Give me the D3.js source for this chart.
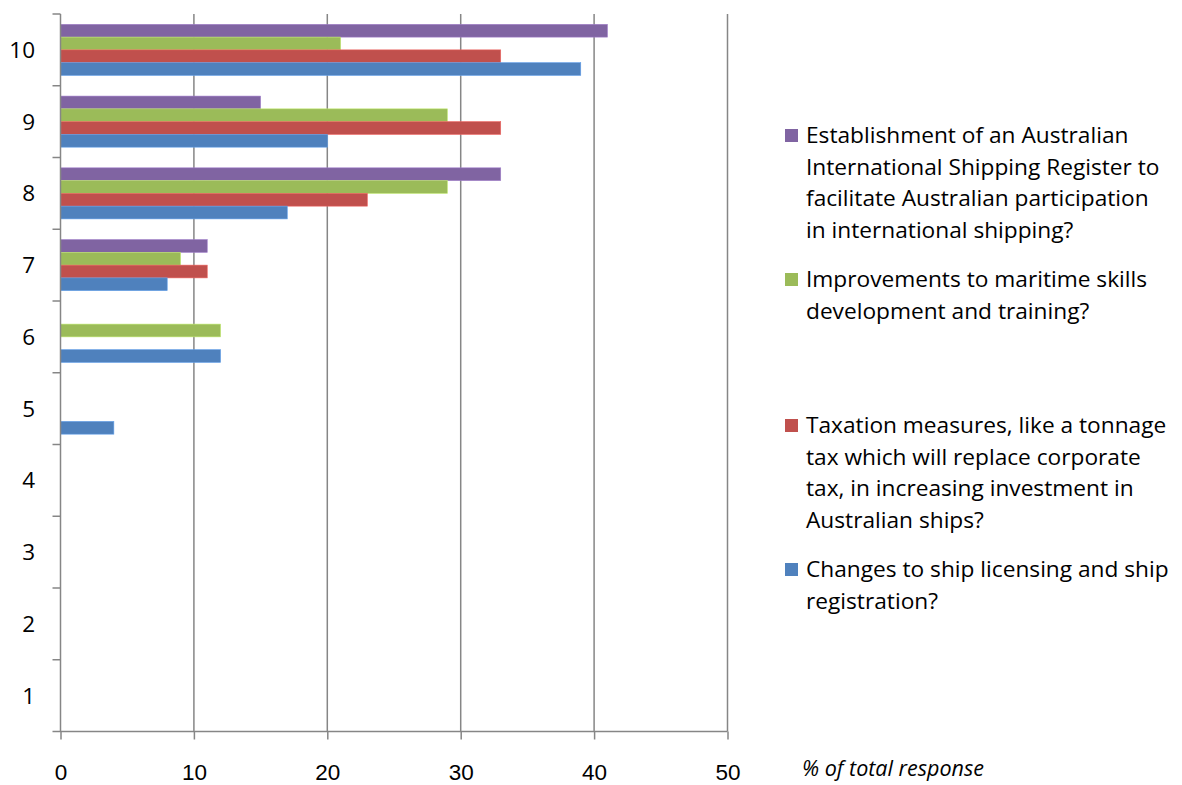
<!DOCTYPE html>
<html>
<head>
<meta charset="utf-8">
<script src="https://cdn.jsdelivr.net/npm/d3@7"></script>
<style>
  html, body { margin: 0; padding: 0; background: #fff; }
  svg { display: block; font-family: "Open Sans", Lato, sans-serif; }
  .axis path, .axis line { stroke: #868686; stroke-width: 1.5; }
  .axis text { fill: #000; font-size: 22.5px; }
  .grid line { stroke: #868686; stroke-width: 1.5; }
  .legend text { font-size: 22.7px; fill: #000; }
</style>
</head>
<body>
<svg id="chart" width="1182" height="785"></svg>
<script>
// categories, bottom to top on the chart
const categories = ['1', '2', '3', '4', '5', '6', '7', '8', '9', '10'];

// series values (% of total response), one per category
const registerValues = [0, 0, 0, 0, 0, 0, 11, 33, 15, 41];
const skillsValues   = [0, 0, 0, 0, 0, 12, 9, 29, 29, 21];
const taxValues      = [0, 0, 0, 0, 0, 0, 11, 23, 33, 33];
const licenceValues  = [0, 0, 0, 0, 4, 12, 8, 17, 20, 39];

const seriesNames = ['register', 'skills', 'tax', 'licence'];
const seriesColors = ['#8064A2', '#9BBB59', '#C0504D', '#4F81BD'];
const seriesLabels = [
    ['Establishment of an Australian', 'International Shipping Register to', 'facilitate Australian participation', 'in international shipping?'],
    ['Improvements to maritime skills', 'development and training?'],
    ['Taxation measures, like a tonnage', 'tax which will replace corporate', 'tax, in increasing investment in', 'Australian ships?'],
    ['Changes to ship licensing and ship', 'registration?']
];

const xTicks = [0, 10, 20, 30, 40, 50];
const xTitle = '% of total response';

const seriesValues = [registerValues, skillsValues, taxValues, licenceValues];

const svg = d3.select('#chart');
const plot = {left: 60.5, right: 727.5, top: 14, bottom: 731.5};

const xScale = d3.scaleLinear().domain([0, 50]).range([plot.left, plot.right]);
const yScale = d3.scaleBand()
    .domain(categories.slice().reverse())
    .range([plot.top, plot.bottom])
    .padding(0);
const innerScale = d3.scaleBand()
    .domain(seriesNames)
    .range([0, yScale.bandwidth()])
    .paddingInner(0)
    .paddingOuter(0.81);

// vertical gridlines
svg.append('g')
    .attr('class', 'grid')
    .selectAll('line')
    .data(xTicks.slice(1))
    .enter()
    .append('line')
    .attr('x1', d => xScale(d))
    .attr('x2', d => xScale(d))
    .attr('y1', plot.top)
    .attr('y2', plot.bottom);

// bars
const rows = categories.map((c, i) => ({cat: c, values: seriesValues.map(s => s[i])}));
svg.append('g')
    .selectAll('g')
    .data(rows)
    .enter()
    .append('g')
    .attr('transform', d => `translate(0,${yScale(d.cat)})`)
    .each(function (d) {
        d3.select(this)
            .selectAll('rect')
            .data(d.values.map((v, j) => ({v, s: seriesNames[j], color: seriesColors[j]})).filter(b => b.v > 0))
            .enter()
            .append('rect')
            .attr('x', xScale(0))
            .attr('y', b => innerScale(b.s))
            .attr('width', b => xScale(b.v) - xScale(0))
            .attr('height', innerScale.bandwidth())
            .attr('fill', b => b.color)
            .attr('stroke', b => d3.color(b.color).brighter(0.6))
            .attr('stroke-width', 0.6);
    });

// x axis
const xAxis = d3.axisBottom(xScale).tickValues(xTicks).tickSize(8).tickPadding(25).tickSizeOuter(0);
const xG = svg.append('g')
    .attr('class', 'axis')
    .attr('transform', `translate(0,${plot.bottom})`)
    .call(xAxis);
xG.select('.domain').attr('d', `M${plot.left - 8},0H${plot.right}`);

// y axis: ticks sit on band boundaries, labels in band centres
const boundaries = d3.range(categories.length + 1).map(i => plot.top + i * yScale.step());
const yG = svg.append('g').attr('class', 'axis');
yG.append('line')
    .attr('x1', plot.left).attr('x2', plot.left)
    .attr('y1', plot.top).attr('y2', plot.bottom);
yG.selectAll('.tick')
    .data(boundaries.slice(0, -1))
    .enter()
    .append('line')
    .attr('class', 'tick')
    .attr('x1', plot.left - 8).attr('x2', plot.left)
    .attr('y1', d => d).attr('y2', d => d);
yG.selectAll('text')
    .data(categories)
    .enter()
    .append('text')
    .attr('x', 35)
    .attr('y', d => yScale(d) + yScale.bandwidth() / 2)
    .attr('dy', '0.36em')
    .attr('text-anchor', 'end')
    .text(d => d);

// axis title
svg.append('text')
    .attr('x', 802)
    .attr('y', 776)
    .attr('font-size', '21.5px')
    .attr('font-style', 'italic')
    .text(xTitle);

// legend
const legendTops = [143, 287, 433, 577];
const legend = svg.append('g').attr('class', 'legend');
seriesLabels.forEach((lines, i) => {
    const g = legend.append('g');
    g.append('rect')
        .attr('x', 785)
        .attr('y', legendTops[i] - 14)
        .attr('width', 13)
        .attr('height', 13)
        .attr('fill', seriesColors[i]);
    g.append('text')
        .selectAll('tspan')
        .data(lines)
        .enter()
        .append('tspan')
        .attr('x', 806)
        .attr('y', (d, k) => legendTops[i] + k * 31.7)
        .text(d => d);
});
</script>
</body>
</html>
